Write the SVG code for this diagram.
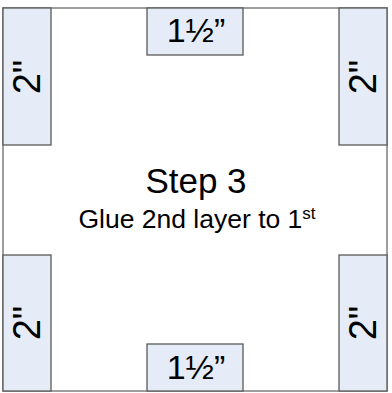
<svg xmlns="http://www.w3.org/2000/svg" width="392" height="393" viewBox="0 0 392 393">
<style>
.outer{fill:#ffffff;stroke:#7f7f7f;stroke-width:1.5}
.piece{fill:#e6ecf7;stroke:#595959;stroke-width:1.3}
.lbl{font-family:"Liberation Sans",Arial,sans-serif;fill:#000000}
</style>
<rect x="0" y="0" width="392" height="393" fill="#ffffff"/>
<g id="board"><rect class="outer" x="3" y="8" width="384" height="383"/></g>
<g id="piece-left-top">
<rect class="piece" x="3" y="8" width="48" height="137"/>
<text class="lbl" font-size="38" text-anchor="middle" transform="translate(27,77) rotate(-90)" y="13">2"</text>
</g>
<g id="piece-top">
<rect class="piece" x="147" y="8" width="96" height="47"/>
<text class="lbl" font-size="34" text-anchor="middle" x="196" y="42">1½”</text>
</g>
<g id="piece-right-top">
<rect class="piece" x="339" y="8" width="48" height="137"/>
<text class="lbl" font-size="38" text-anchor="middle" transform="translate(363,77) rotate(-90)" y="13">2"</text>
</g>
<g id="piece-left-bottom">
<rect class="piece" x="3" y="255" width="48" height="136"/>
<text class="lbl" font-size="38" text-anchor="middle" transform="translate(27,323) rotate(-90)" y="13">2"</text>
</g>
<g id="piece-bottom">
<rect class="piece" x="147" y="344" width="96" height="47"/>
<text class="lbl" font-size="34" text-anchor="middle" x="196" y="379">1½”</text>
</g>
<g id="piece-right-bottom">
<rect class="piece" x="339" y="255" width="48" height="136"/>
<text class="lbl" font-size="38" text-anchor="middle" transform="translate(363,323) rotate(-90)" y="13">2"</text>
</g>
<g id="title">
<text class="lbl" font-size="35" text-anchor="middle" x="196" y="193">Step 3</text>
<text class="lbl" font-size="26.5" text-anchor="middle" x="197" y="228">Glue 2nd layer to 1<tspan font-size="17" dy="-9">st</tspan></text>
</g>
</svg>
